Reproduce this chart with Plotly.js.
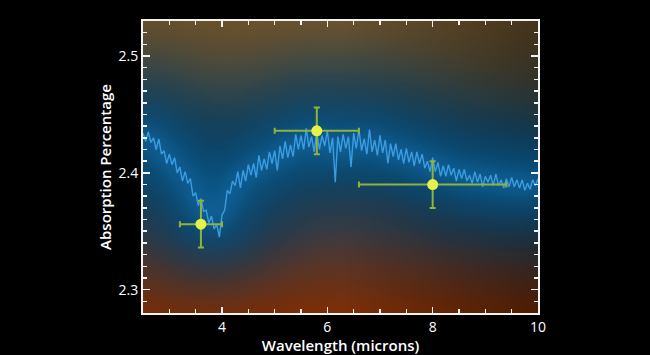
<!DOCTYPE html>
<html><head><meta charset="utf-8">
<script src="https://cdn.plot.ly/plotly-3.0.1.min.js"></script>
<style>html,body{margin:0;padding:0;background:#000;}#chart{width:650px;height:355px;}</style>
</head><body><div id="chart"></div>
<script>
// Spectrum (wavelength in microns, absorption percentage)
const specX = [2.50,2.55,2.60,2.65,2.70,2.75,2.80,2.85,2.90,2.95,3.00,3.05,3.10,3.15,3.20,3.25,3.30,3.35,3.40,3.45,
3.50,3.55,3.60,3.65,3.70,3.75,3.80,3.85,3.90,3.95,4.00,4.05,4.10,4.15,4.20,4.25,4.30,4.35,4.40,4.45,
4.50,4.55,4.60,4.65,4.70,4.75,4.80,4.85,4.90,4.95,5.00,5.05,5.10,5.15,5.20,5.25,5.30,5.35,5.40,5.45,
5.50,5.55,5.60,5.65,5.70,5.75,5.80,5.85,5.90,5.95,6.00,6.05,6.10,6.15,6.20,6.25,6.30,6.35,6.40,6.45,
6.50,6.55,6.60,6.65,6.70,6.75,6.80,6.85,6.90,6.95,7.00,7.05,7.10,7.15,7.20,7.25,7.30,7.35,7.40,7.45,
7.50,7.55,7.60,7.65,7.70,7.75,7.80,7.85,7.90,7.95,8.00,8.05,8.10,8.15,8.20,8.25,8.30,8.35,8.40,8.45,
8.50,8.55,8.60,8.65,8.70,8.75,8.80,8.85,8.90,8.95,9.00,9.05,9.10,9.15,9.20,9.25,9.30,9.35,9.40,9.45,
9.50,9.55,9.60,9.65,9.70,9.75,9.80,9.85,9.90,9.95,10.00];
const specY = [2.434,2.427,2.435,2.426,2.430,2.420,2.429,2.416,2.419,2.408,2.416,2.407,2.413,2.400,2.405,2.393,2.401,2.391,2.395,2.380,
2.383,2.372,2.378,2.367,2.368,2.357,2.363,2.352,2.356,2.345,2.364,2.368,2.385,2.382,2.393,2.389,2.401,2.387,2.402,2.393,
2.407,2.398,2.408,2.396,2.415,2.402,2.412,2.403,2.418,2.408,2.419,2.402,2.423,2.412,2.427,2.413,2.424,2.414,2.433,2.420,
2.432,2.420,2.438,2.422,2.431,2.418,2.435,2.420,2.432,2.423,2.436,2.417,2.430,2.392,2.431,2.418,2.433,2.421,2.431,2.405,
2.434,2.421,2.437,2.419,2.429,2.416,2.437,2.418,2.428,2.415,2.432,2.417,2.428,2.408,2.425,2.414,2.425,2.411,2.420,2.408,
2.421,2.409,2.418,2.406,2.418,2.408,2.416,2.404,2.410,2.401,2.413,2.401,2.409,2.397,2.406,2.397,2.407,2.398,2.404,2.393,
2.403,2.395,2.403,2.393,2.398,2.391,2.401,2.392,2.399,2.388,2.397,2.392,2.398,2.389,2.399,2.389,2.394,2.387,2.395,2.388,
2.396,2.388,2.394,2.387,2.394,2.385,2.391,2.386,2.394,2.389,2.395];

// Photometric points with error bars
const ptX = [3.6, 5.8, 8.0];
const ptY = [2.356, 2.436, 2.390];
const ptErrX = [0.4, 0.8, 1.4];
const ptErrY = [0.02, 0.02, 0.02];

// Axes
const xTickVals = [4, 6, 8, 10];
const xTickText = ['4', '6', '8', '10'];
const yTickVals = [2.3, 2.4, 2.5];
const yTickText = ['2.3', '2.4', '2.5'];
const xRange = [2.5, 10];
const yRange = [2.28, 2.53];

const M = {l:143, r:112, t:21, b:42};
const W = 650 - M.l - M.r, H = 355 - M.t - M.b;

function makeBackground(){
  const c = document.createElement('canvas'); c.width = W; c.height = H;
  const g = c.getContext('2d');
  const px = x => (x - xRange[0]) / (xRange[1] - xRange[0]) * W;
  const py = y => (yRange[1] - y) / (yRange[1] - yRange[0]) * H;
  let lg = g.createLinearGradient(0, 0, 0, H);
  lg.addColorStop(0, '#6e532c');
  lg.addColorStop(0.28, '#524c3a');
  lg.addColorStop(0.5, '#2f4048');
  lg.addColorStop(0.72, '#443a3c');
  lg.addColorStop(1, '#7e2e06');
  g.fillStyle = lg; g.fillRect(0, 0, W, H);
  let hg = g.createLinearGradient(0, 0, W, 0);
  hg.addColorStop(0, 'rgba(0,0,0,0.05)');
  hg.addColorStop(0.5, 'rgba(0,0,0,0)');
  hg.addColorStop(1, 'rgba(0,0,0,0.38)');
  g.fillStyle = hg; g.fillRect(0, 0, W, H);
  const sm = specY.map((v, i) => { let s = 0, n = 0; for (let k = -4; k <= 4; k++) { const j = i + k; if (j >= 0 && j < specY.length) { s += specY[j]; n++; } } return s / n; });
  const strokeCurve = (blur, color, width, dy) => {
    g.save();
    g.filter = 'blur(' + blur + 'px)';
    g.strokeStyle = color; g.lineWidth = width; g.lineJoin = 'round'; g.lineCap = 'round';
    g.beginPath();
    specX.forEach((x, i) => { if (i) g.lineTo(px(x), py(sm[i]) + dy); else g.moveTo(px(x), py(sm[i]) + dy); });
    g.stroke();
    g.restore();
  };
  strokeCurve(32, 'rgba(6,62,100,0.85)', 130, -8);
  strokeCurve(18, 'rgba(10,92,145,0.75)', 50, 0);
  strokeCurve(8, 'rgba(25,120,185,0.35)', 18, 0);
  return c.toDataURL();
}

const font = "'Open Sans', sans-serif";
const traces = [
  {x: specX, y: specY, type: 'scatter', mode: 'lines',
   line: {color: 'rgba(62,160,232,0.95)', width: 1.4}, hoverinfo: 'skip'},
  {x: ptX, y: ptY, type: 'scatter', mode: 'markers',
   marker: {color: '#e6f24a', size: 11},
   error_x: {type: 'data', array: ptErrX, color: '#8fb43c', thickness: 2, width: 3},
   error_y: {type: 'data', array: ptErrY, color: '#8fb43c', thickness: 2, width: 3}}
];
const axisCommon = {
  showline: true, linecolor: '#f2f2f2', linewidth: 2, mirror: 'allticks',
  ticks: 'inside', tickcolor: '#f2f2f2', tickwidth: 1.5,
  showgrid: false, zeroline: false,
  tickfont: {family: font, size: 14, color: '#fff'}
};
const layout = {
  width: 650, height: 355,
  margin: M,
  paper_bgcolor: '#000', plot_bgcolor: 'rgba(0,0,0,0)',
  showlegend: false,
  xaxis: Object.assign({}, axisCommon, {
    range: xRange, tickmode: 'array', tickvals: xTickVals, ticktext: xTickText, ticklen: 6,
    minor: {tickmode: 'linear', tick0: 0, dtick: 0.5, ticks: 'inside', ticklen: 4, tickcolor: '#f2f2f2', tickwidth: 1.5},
    title: {text: 'Wavelength (microns)', font: {family: font, size: 15, color: '#fff', weight: 600}, standoff: 6}
  }),
  yaxis: Object.assign({}, axisCommon, {
    range: yRange, tickmode: 'array', tickvals: yTickVals, ticktext: yTickText, ticklen: 7,
    minor: {tickmode: 'linear', tick0: 0, dtick: 0.01, ticks: 'inside', ticklen: 4, tickcolor: '#f2f2f2', tickwidth: 1.5},
    title: {text: 'Absorption Percentage', font: {family: font, size: 15, color: '#fff', weight: 600}, standoff: 3}
  }),
  images: [{source: makeBackground(), xref: 'paper', yref: 'paper', x: 0, y: 1, sizex: 1, sizey: 1,
            sizing: 'stretch', xanchor: 'left', yanchor: 'top', layer: 'below'}]
};
Plotly.newPlot('chart', traces, layout, {displayModeBar: false, staticPlot: true});
</script>
</body></html>
